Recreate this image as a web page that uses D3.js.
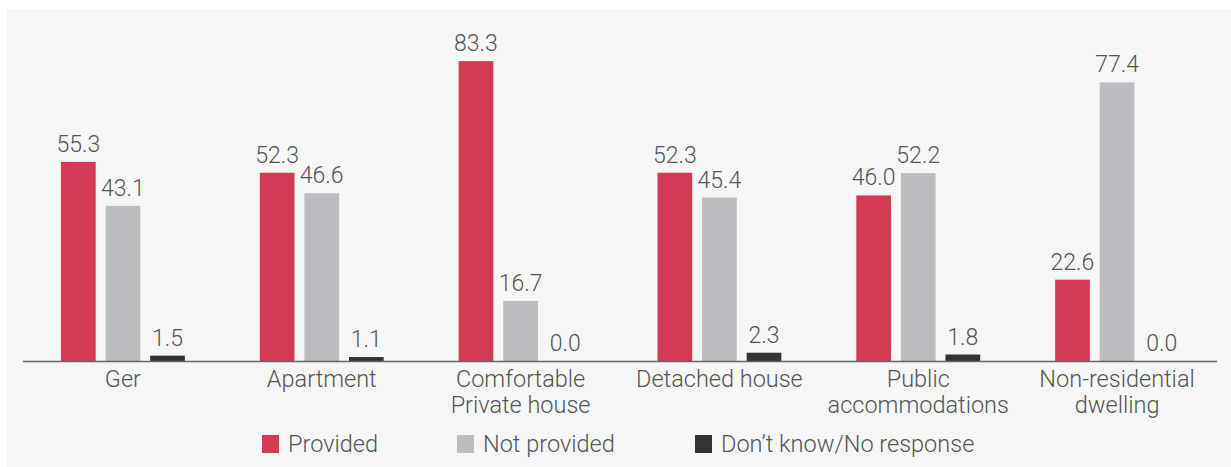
<!DOCTYPE html>
<html><head><meta charset="utf-8">
<script src="https://cdn.jsdelivr.net/npm/d3@7"></script>
<style>body{margin:0;background:#fff;}svg{display:block;font-family:Roboto,"Noto Sans",sans-serif;}</style>
</head><body>
<svg id="c" width="1231" height="467"></svg>
<script>
const categories = [["Ger"],["Apartment"],["Comfortable","Private house"],["Detached house"],["Public","accommodations"],["Non-residential","dwelling"]];
const seriesNames = ["Provided","Not provided","Don\u2019t know/No response"];
const provided = [55.3,52.3,83.3,52.3,46.0,22.6];
const notProvided = [43.1,46.6,16.7,45.4,52.2,77.4];
const dontKnow = [1.5,1.1,0.0,2.3,1.8,0.0];
const colors = ["#d33a54","#bcbdc1","#333333"];

const svg = d3.select("#c");
svg.append("rect").attr("x",7).attr("y",9).attr("width",1224).attr("height",458).attr("fill","#f6f6f6");

const baseY = 361;
const x0 = d3.scaleBand().domain(d3.range(categories.length)).range([23,1217]).paddingInner(0.377).paddingOuter(0.191);
const x1 = d3.scaleBand().domain(d3.range(3)).range([0,x0.bandwidth()]).paddingInner(0.222);
const y = d3.scaleLinear().domain([0,100]).range([baseY, baseY-360]);

const series = [provided, notProvided, dontKnow];
const g = svg.append("g");
categories.forEach((c,i)=>{
  series.forEach((s,j)=>{
    const v = s[i];
    const bx = x0(i)+x1(j);
    g.append("rect").attr("x",bx).attr("y",y(v)).attr("width",x1.bandwidth()).attr("height",baseY-y(v)).attr("fill",colors[j]);
    g.append("text").attr("x",bx+x1.bandwidth()/2).attr("y",y(v)-10).attr("text-anchor","middle")
      .attr("font-size",23).attr("font-weight",300).attr("fill","#555").text(v.toFixed(1));
  });
  c.forEach((line,k)=>{
    g.append("text").attr("text-anchor","middle").attr("font-size",23.5).attr("font-weight",300).attr("fill","#555")
      .attr("x",x0(i)+x0.bandwidth()/2).attr("y",387+k*26).text(line);
  });
});
svg.append("line").attr("x1",23).attr("x2",1217).attr("y1",baseY+0.5).attr("y2",baseY+0.5).attr("stroke","#666").attr("stroke-width",1.5);

const legendX = [262,457,695];
seriesNames.forEach((n,j)=>{
  svg.append("rect").attr("x",legendX[j]).attr("y",435).attr("width",17).attr("height",18).attr("fill",colors[j]);
  svg.append("text").attr("x",legendX[j]+26).attr("y",452).attr("font-size",23.5).attr("font-weight",300).attr("fill","#555").text(n);
});
</script>
</body></html>
